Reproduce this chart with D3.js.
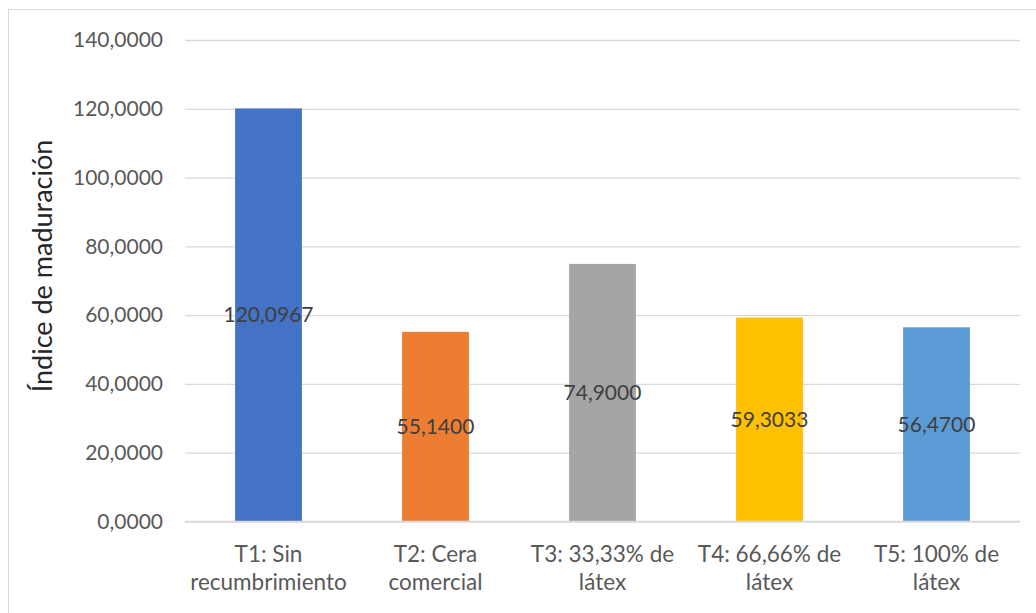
<!DOCTYPE html>
<html>
<head>
<meta charset="utf-8">
<script src="https://cdn.jsdelivr.net/npm/d3@7"></script>
<style>
  html, body { margin: 0; padding: 0; background: #fff; }
  svg { display: block; font-family: Lato, "Open Sans", sans-serif; }
</style>
</head>
<body>
<svg id="chart" width="1036" height="613"></svg>
<script>
// Treatment categories (each split into the two lines shown under the axis)
const categories = ["T1", "T2", "T3", "T4", "T5"];
const categoryLines = [
  ["T1: Sin", "recumbrimiento"],
  ["T2: Cera", "comercial"],
  ["T3: 33,33% de", "látex"],
  ["T4: 66,66% de", "látex"],
  ["T5: 100% de", "látex"]
];
// Ripening index per treatment
const values = [120.0967, 55.1400, 74.9000, 59.3033, 56.4700];
const barColors = ["#4472C4", "#ED7D31", "#A5A5A5", "#FFC000", "#5B9BD5"];
const yTicks = [0, 20, 40, 60, 80, 100, 120, 140];
const yTitle = "Índice de maduración";

const svg = d3.select("#chart");
const margin = { left: 185, right: 16, top: 40, bottom: 92 };
const W = 1036, H = 613;

// Chart frame
svg.append("rect")
  .attr("x", 8.5).attr("y", 9.5)
  .attr("width", 1040).attr("height", 620)
  .attr("fill", "#fff").attr("stroke", "#D9D9D9").attr("stroke-width", 1);

const x = d3.scaleBand()
  .domain(categories)
  .range([margin.left, W - margin.right])
  .paddingInner(0.6).paddingOuter(0.3);

const y = d3.scaleLinear()
  .domain([0, 140])
  .range([H - margin.bottom + 0.5, margin.top]);

const fmt = v => d3.format(".4f")(v).replace(".", ",");

// Gridlines and tick labels
const yAxis = d3.axisLeft(y)
  .tickValues(yTicks)
  .tickSize(-(W - margin.right - margin.left))
  .tickPadding(22)
  .tickFormat(fmt);

const gy = svg.append("g")
  .attr("transform", `translate(${margin.left},0)`)
  .call(yAxis);
gy.select(".domain").remove();
gy.selectAll(".tick line").attr("stroke", "#D9D9D9").attr("stroke-width", 1.3);
gy.selectAll(".tick text")
  .attr("fill", "#595959")
  .attr("font-size", "21px")
  .attr("font-family", "Lato, sans-serif");

// Bars
svg.append("g").selectAll("rect")
  .data(values)
  .join("rect")
  .attr("x", (d, i) => x(categories[i]))
  .attr("y", d => y(d))
  .attr("width", x.bandwidth())
  .attr("height", d => y(0) - y(d))
  .attr("fill", (d, i) => barColors[i]);

// Baseline axis line
svg.append("line")
  .attr("x1", margin.left).attr("x2", W - margin.right)
  .attr("y1", y(0)).attr("y2", y(0))
  .attr("stroke", "#D9D9D9").attr("stroke-width", 1.3);

// Value labels, centred inside each bar
svg.append("g").selectAll("text")
  .data(values)
  .join("text")
  .attr("x", (d, i) => x(categories[i]) + x.bandwidth() / 2)
  .attr("y", d => (y(d) + y(0)) / 2)
  .attr("dy", "0.35em")
  .attr("text-anchor", "middle")
  .attr("fill", "#404040")
  .attr("font-size", "21px")
  .text(d => fmt(d));

// Category labels
const catG = svg.append("g").selectAll("text")
  .data(categoryLines)
  .join("text")
  .attr("text-anchor", "middle")
  .attr("fill", "#595959")
  .attr("font-size", "22.5px")
  .attr("x", (d, i) => x(categories[i]) + x.bandwidth() / 2);
catG.each(function(lines, i) {
  const t = d3.select(this);
  lines.forEach((ln, k) => {
    t.append("tspan")
      .attr("x", x(categories[i]) + x.bandwidth() / 2)
      .attr("y", 562 + k * 28)
      .text(ln);
  });
});

// Y axis title
svg.append("text")
  .attr("transform", `translate(52,266) rotate(-90)`)
  .attr("text-anchor", "middle")
  .attr("fill", "#262626")
  .attr("font-size", "27px")
  .text(yTitle);
</script>
</body>
</html>
